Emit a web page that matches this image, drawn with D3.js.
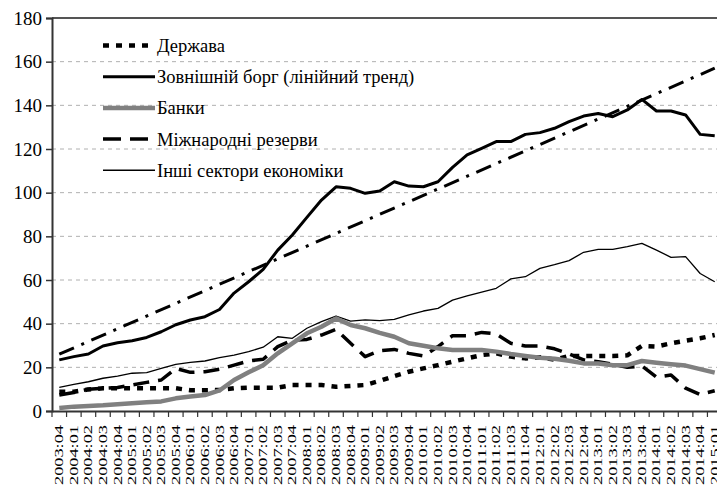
<!DOCTYPE html>
<html>
<head>
<meta charset="utf-8">
<script src="https://cdn.jsdelivr.net/npm/d3@7"></script>
<style>
  body { margin: 0; background: #fff; }
  svg { display: block; overflow: hidden; }
</style>
</head>
<body>
<svg id="chart" width="717" height="486"></svg>
<script>
// quarters 2003:04 ... 2015:01
var quarters = ["2003:04",
  "2004:01","2004:02","2004:03","2004:04","2005:01","2005:02","2005:03","2005:04",
  "2006:01","2006:02","2006:03","2006:04","2007:01","2007:02","2007:03","2007:04",
  "2008:01","2008:02","2008:03","2008:04","2009:01","2009:02","2009:03","2009:04",
  "2010:01","2010:02","2010:03","2010:04","2011:01","2011:02","2011:03","2011:04",
  "2012:01","2012:02","2012:03","2012:04","2013:01","2013:02","2013:03","2013:04",
  "2014:01","2014:02","2014:03","2014:04","2015:01"];

var derzhava = [8.8,8.8,9.9,10.4,10.4,10.4,10.4,10.4,10.4,9.5,9.5,9.6,10.4,10.7,10.7,10.7,
  11.9,11.9,11.9,11.1,11.5,11.9,13.8,16,18,19.5,21,22.6,24.1,25.6,26.4,24.9,24.1,24.6,23.5,
  25.2,25.2,25.2,25.2,25.5,29.8,29.5,31,32.2,33.3,34.8];

var borg = [23.4,24.9,26.1,29.8,31.3,32.2,33.7,36.3,39.5,41.7,43.2,46.5,54,59.2,64.9,73.7,
  80.6,88.7,96.6,102.7,102,99.7,100.8,105,103,102.7,105,111.6,117.3,120.3,123.4,123.4,
  126.7,127.5,129.5,132.5,135.1,136.3,134.8,137.9,142.7,137.4,137.4,135.6,126.7,126.1];

var banky = [1.4,2,2.3,2.6,3.1,3.5,4,4.4,5.8,6.6,7.3,9.4,14.2,17.7,21,26.4,31,35.6,38.6,42.4,
  39.4,37.9,35.8,34,31,29.9,28.7,27.9,27.9,27.9,27.2,26.1,25.2,24.4,23.9,23,21.8,21.8,21,21,
  22.9,22.1,21.4,20.8,19.2,17.6];

var rezervy = [7.3,8.5,10,10.4,10.8,11.9,13.1,14.2,19.5,17.7,18,19.1,21,22.9,23.7,29.5,32.5,
  32.8,34.8,37.4,31,24.9,27.6,28.2,26.4,25.2,29.5,34.5,34.5,36,35.3,31,29.8,29.8,28.5,26.1,
  23.4,22.6,21.4,20,20.6,15.5,16.5,10.5,7.5,9.3];

var inshi = [10.8,12.2,13.4,15,16,17.3,17.6,19.5,21.4,22.3,22.9,24.4,25.6,27.2,29.2,34,33.3,
  37.9,40.9,43.5,41.2,41.7,41.4,42,44,45.8,47,50.8,52.7,54.4,56.2,60.5,61.5,65.3,67,68.9,
  72.7,74,74,75.3,76.8,73.7,70.4,70.7,63,59.2];

// linear trend of external debt: first and last quarter
var trendQuarters = ["2003:04", "2015:01"];
var trendValues = [26, 157];

var yTicks = [0, 20, 40, 60, 80, 100, 120, 140, 160, 180];

var FONT = "'Liberation Serif', 'Times New Roman', serif";
var svg = d3.select("#chart");
var mLeft = 52, mTop = 18, mBottom = 411, mRight = 722;

var x = d3.scaleBand().domain(quarters).range([mLeft, mRight]);
var y = d3.scaleLinear().domain([0, 180]).range([mBottom, mTop]);
var cx = function(q) { return x(q) + x.bandwidth() / 2; };

// gridlines
svg.append("g").selectAll("line").data(yTicks.slice(1, -1)).enter().append("line")
  .attr("x1", mLeft).attr("x2", mRight)
  .attr("y1", function(d) { return y(d); }).attr("y2", function(d) { return y(d); })
  .attr("stroke", "#b0b0b0").attr("stroke-width", 1).attr("stroke-dasharray", "4,4");

// top border
svg.append("line").attr("x1", mLeft).attr("x2", mRight).attr("y1", y(180)).attr("y2", y(180))
  .attr("stroke", "#555").attr("stroke-width", 2);

// y axis
var yAxis = d3.axisLeft(y).tickValues(yTicks).tickSize(6).tickPadding(4);
var gy = svg.append("g").attr("transform", "translate(" + mLeft + ",0)").call(yAxis)
  .attr("font-family", FONT).attr("font-size", 19);
gy.select(".domain").attr("stroke", "#333").attr("stroke-width", 2);
gy.selectAll(".tick line").attr("stroke", "#333").attr("stroke-width", 1.5);
gy.selectAll("text").attr("fill", "#000");

// x axis
var xAxis = d3.axisBottom(x).tickSize(0).tickFormat("");
var gx = svg.append("g").attr("transform", "translate(0," + mBottom + ")").call(xAxis)
  .attr("font-family", FONT);
gx.select(".domain").attr("stroke", "#333").attr("stroke-width", 2);
gx.selectAll(".xt").data(quarters.concat(["end"])).enter().append("line")
  .attr("x1", function(d, i) { return mLeft + i * x.bandwidth(); })
  .attr("x2", function(d, i) { return mLeft + i * x.bandwidth(); })
  .attr("y1", 0).attr("y2", 6).attr("stroke", "#333").attr("stroke-width", 1.2);
gx.selectAll(".xl").data(quarters).enter().append("text")
  .attr("transform", function(d) { return "translate(" + (cx(d) + 4) + ",14) rotate(-90)"; })
  .attr("text-anchor", "end")
  .attr("textLength", 60).attr("lengthAdjust", "spacingAndGlyphs")
  .attr("font-size", 11.5).attr("fill", "#000")
  .text(function(d) { return d; });

var line = d3.line().x(function(d) { return cx(d.q); }).y(function(d) { return y(d.v); });
var toPts = function(vals, qs) { return vals.map(function(v, i) { return {q: (qs || quarters)[i], v: v}; }); };

var series = [
  {name: "Міжнародні резерви", vals: rezervy, color: "#000", w: 3.5, dash: "16,9"},
  {name: "Інші сектори економіки", vals: inshi, color: "#000", w: 1.3, dash: null},
  {name: "Держава", vals: derzhava, color: "#000", w: 4.5, dash: "6,7"},
  {name: "Зовнішній борг (лінійний тренд)", vals: borg, color: "#000", w: 3, dash: null},
  {name: "Банки", vals: banky, color: "#808080", w: 4.5, dash: null}
];

// trend line (dash-dot)
svg.append("path").datum(toPts(trendValues, trendQuarters))
  .attr("d", line).attr("fill", "none").attr("stroke", "#000").attr("stroke-width", 3)
  .attr("stroke-dasharray", "16,8,3,8");

series.forEach(function(s) {
  svg.append("path").datum(toPts(s.vals))
    .attr("d", line).attr("fill", "none").attr("stroke", s.color)
    .attr("stroke-width", s.w).attr("stroke-linejoin", "round")
    .attr("stroke-dasharray", s.dash);
});

// legend
var legendItems = [series[2], series[3], series[4], series[0], series[1]];
var lg = svg.append("g").attr("font-family", FONT).attr("font-size", 18.5);
legendItems.forEach(function(s, i) {
  var ly = 45.5 + i * 31.2;
  lg.append("line").attr("x1", 103).attr("x2", 155).attr("y1", ly).attr("y2", ly)
    .attr("stroke", s.color).attr("stroke-width", s.w === 1.3 ? 1.5 : s.w)
    .attr("stroke-dasharray", s.dash === "16,9" ? "18,9" : s.dash);
  lg.append("text").attr("x", 157).attr("y", ly + 6.5).attr("fill", "#000").text(s.name);
});
</script>
</body>
</html>
